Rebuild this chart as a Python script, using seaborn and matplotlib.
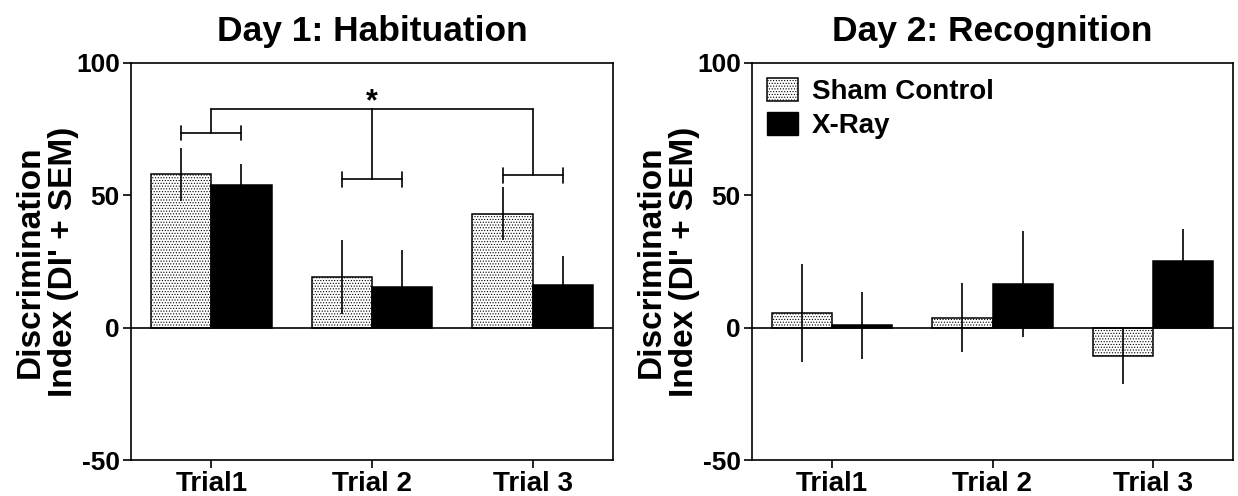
import numpy as np
import pandas as pd
import matplotlib
matplotlib.use("Agg")
import matplotlib.pyplot as plt
import seaborn as sns
from matplotlib.patches import Patch

# ---- data ----
trials = ["Trial1", "Trial 2", "Trial 3"]
groups = ["Sham Control", "X-Ray"]

day1_sham = [58, 19, 43]
day1_sham_sem = [10, 14, 10]
day1_xray = [54, 15.5, 16]
day1_xray_sem = [8, 14, 11]

day2_sham = [5.5, 3.8, -10.6]
day2_sham_sem = [18.5, 13, 10.5]
day2_xray = [0.9, 16.6, 25]
day2_xray_sem = [12.6, 20, 12.4]

# significance bracket levels (Day 1)
bracket_levels = [73.5, 56, 57.5]
bracket_top = 82.6
star_level = 79.5

titles = ["Day 1: Habituation", "Day 2: Recognition"]
ylabel = "Discrimination\nIndex (DI' + SEM)"
yticks = [-50, 0, 50, 100]

sns.set_theme(style="white")
plt.rcParams["font.family"] = ["Liberation Sans", "DejaVu Sans"]
plt.rcParams["font.weight"] = "bold"
plt.rcParams["hatch.linewidth"] = 0.5
plt.rcParams["hatch.color"] = "black"
for k in ["text.color", "axes.labelcolor", "xtick.color", "ytick.color"]:
    plt.rcParams[k] = "black"

fig = plt.figure(figsize=(12.38, 4.96), dpi=100)
W, H = 1238, 496
ax1 = fig.add_axes([131 / W, 1 - 460 / H, (613 - 131) / W, (460 - 63) / H])
ax2 = fig.add_axes([752 / W, 1 - 460 / H, (1233 - 752) / W, (460 - 63) / H])

HATCH = "......"


def panel(ax, sham, sham_sem, xray, xray_sem, title):
    df = pd.DataFrame({
        "trial": trials * 2,
        "group": [groups[0]] * 3 + [groups[1]] * 3,
        "value": list(sham) + list(xray),
        "sem": list(sham_sem) + list(xray_sem),
    })
    sns.barplot(data=df, x="trial", y="value", hue="group", order=trials,
                hue_order=groups,
                palette={groups[0]: "white", groups[1]: "black"},
                edgecolor="black", linewidth=1.1, width=0.75, saturation=1,
                errorbar=None, legend=False, ax=ax, zorder=2)
    centers = []
    for cont, vals, sems in zip(ax.containers, [sham, xray], [sham_sem, xray_sem]):
        xs = [b.get_x() + b.get_width() / 2 for b in cont]
        centers.append(xs)
        ax.errorbar(xs, vals, yerr=sems, fmt="none", ecolor="black",
                    elinewidth=1.2, capsize=0, zorder=3)
    for b in ax.containers[0]:
        b.set_hatch(HATCH)
    ax.axhline(0, color="black", lw=1.2, zorder=4)
    ax.set_ylim(-50, 100)
    ax.set_xlim(-0.5, 2.5)
    ax.set_yticks(yticks)
    ax.set_yticklabels([str(t) for t in yticks], fontsize=19, fontweight="bold")
    ax.set_xticks(range(len(trials)))
    ax.set_xticklabels(trials, fontsize=20, fontweight="bold")
    ax.set_xlabel("")
    ax.set_ylabel(ylabel, fontsize=24, fontweight="bold", linespacing=1.1, labelpad=-2)
    ax.set_title(title, fontsize=25.5, fontweight="bold", pad=16)
    ax.tick_params(axis="both", direction="out", length=6, width=1.2,
                   left=True, bottom=True, pad=2, colors="black")
    for s in ax.spines.values():
        s.set_visible(True)
        s.set_color("black")
        s.set_linewidth(1.2)
    ax.set_facecolor("white")
    return centers


c1 = panel(ax1, day1_sham, day1_sham_sem, day1_xray, day1_xray_sem, titles[0])
panel(ax2, day2_sham, day2_sham_sem, day2_xray, day2_xray_sem, titles[1])

# significance brackets on Day 1
tk = 2.7
for i, lvl in enumerate(bracket_levels):
    xl, xr = c1[0][i], c1[1][i]
    ax1.plot([xl, xr], [lvl, lvl], color="black", lw=1.2)
    ax1.plot([xl, xl], [lvl - tk, lvl + tk], color="black", lw=1.2)
    ax1.plot([xr, xr], [lvl - tk, lvl + tk], color="black", lw=1.2)
    ax1.plot([i, i], [lvl, bracket_top], color="black", lw=1.2)
ax1.plot([0, 2], [bracket_top, bracket_top], color="black", lw=1.2)
ax1.text(1, star_level, "*", ha="center", va="bottom", fontsize=22, fontweight="bold")

# legend on Day 2
handles = [Patch(facecolor="white", edgecolor="black", hatch=HATCH, lw=1.1),
           Patch(facecolor="black", edgecolor="black")]
leg = ax2.legend(handles, groups, loc="upper left", frameon=False,
                 prop={"size": 20, "weight": "bold"}, handlelength=1.1,
                 handleheight=0.9, handletextpad=0.5, labelspacing=0.25,
                 borderaxespad=0.3, borderpad=0.25)

fig.savefig("out.png", dpi=100, facecolor="white")
